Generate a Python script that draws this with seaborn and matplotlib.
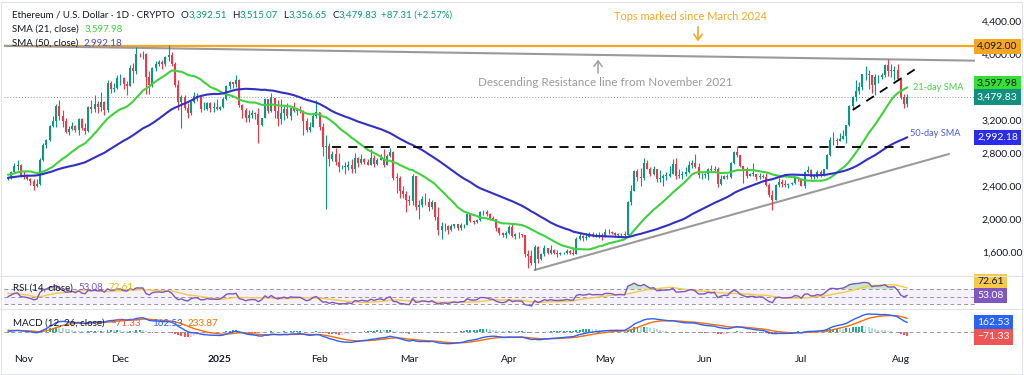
import matplotlib.pyplot as plt
import matplotlib.transforms as mtransforms
from matplotlib.patches import Rectangle, FancyArrowPatch
import numpy as np
import pandas as pd
import seaborn as sns

# closes before the visible window, only used to warm up the SMA / RSI / MACD
sep_close = [2425, 2540, 2425, 2450, 2370, 2225, 2275, 2300, 2360, 2390,
             2340, 2360, 2440, 2415, 2315, 2290, 2340, 2375, 2465, 2560,
             2615, 2580, 2645, 2655, 2580, 2635, 2695, 2675, 2660, 2600]
oct_warm_close = [2450, 2365, 2350, 2415, 2415, 2440, 2420, 2440, 2370, 2385,
                  2435, 2475, 2470, 2630, 2605, 2610, 2605, 2645, 2650, 2750,
                  2665, 2620, 2525, 2535, 2440, 2480]

# visible daily candles, 27 Oct 2024 - 3 Aug 2025
oct_close = [2505, 2565, 2640, 2660, 2520]
oct_high = [2510, 2585, 2680, 2720, 2670]
oct_low = [2470, 2480, 2555, 2590, 2505]

nov_close = [2513, 2490, 2458, 2398, 2420, 2720, 2895, 2960, 3128, 3185,
             3370, 3245, 3185, 3060, 3090, 3130, 3075, 3210, 3105, 3070,
             3355, 3330, 3395, 3360, 3415, 3325, 3650, 3580, 3590, 3705]
nov_high = [2585, 2550, 2500, 2490, 2490, 2740, 2920, 2975, 3140, 3250,
            3395, 3440, 3320, 3220, 3130, 3170, 3140, 3230, 3220, 3160,
            3370, 3440, 3500, 3430, 3540, 3430, 3680, 3670, 3650, 3740]
nov_low = [2480, 2470, 2410, 2350, 2385, 2410, 2700, 2860, 2950, 3120,
           3115, 3205, 3110, 3040, 3015, 3080, 3055, 3020, 3075, 3030,
           3050, 3280, 3300, 3285, 3310, 3260, 3300, 3525, 3540, 3570]

dec_close = [3710, 3640, 3615, 3835, 3790, 4000, 3995, 4005, 3715, 3630,
             3835, 3880, 3905, 3875, 3960, 3985, 3880, 3625, 3420, 3475,
             3340, 3285, 3420, 3490, 3480, 3330, 3330, 3400, 3350, 3360, 3335]
dec_high = [3760, 3720, 3675, 3870, 3890, 4090, 4015, 4040, 4010, 3790,
            3840, 3915, 3925, 3930, 3970, 4107, 4030, 3900, 3680, 3500,
            3500, 3410, 3430, 3535, 3530, 3485, 3420, 3420, 3415, 3420, 3450]
dec_low = [3620, 3580, 3500, 3610, 3645, 3760, 3960, 3940, 3520, 3520,
           3600, 3790, 3850, 3820, 3860, 3920, 3860, 3600, 3320, 3100,
           3320, 3220, 3260, 3400, 3430, 3300, 3320, 3320, 3300, 3300, 3325]

jan_close = [3355, 3450, 3610, 3655, 3635, 3685, 3380, 3325, 3220, 3265,
             3280, 3270, 3135, 3225, 3450, 3310, 3470, 3310, 3210, 3280,
             3330, 3245, 3340, 3310, 3315, 3305, 3185, 3075, 3115, 3250, 3300]
jan_high = [3365, 3480, 3620, 3670, 3665, 3740, 3700, 3395, 3340, 3320,
            3320, 3300, 3340, 3230, 3470, 3450, 3525, 3450, 3440, 3450,
            3370, 3400, 3350, 3420, 3350, 3370, 3325, 3220, 3170, 3280, 3440]
jan_low = [3325, 3350, 3440, 3570, 3590, 3600, 3360, 3230, 3180, 3180,
           3220, 3210, 2920, 3125, 3220, 3290, 3300, 3220, 3130, 3150,
           3200, 3220, 3200, 3300, 3260, 3280, 3020, 3055, 3060, 3110, 3220]

feb_close = [3115, 2870, 2880, 2730, 2785, 2690, 2625, 2630, 2630, 2660,
             2600, 2740, 2675, 2725, 2690, 2660, 2745, 2670, 2715, 2740,
             2660, 2765, 2815, 2500, 2495, 2335, 2305, 2235]
feb_high = [3300, 3160, 3020, 2920, 2825, 2860, 2795, 2650, 2690, 2700,
            2730, 2800, 2755, 2790, 2735, 2725, 2850, 2775, 2735, 2790,
            2845, 2790, 2860, 2830, 2560, 2525, 2400, 2340]
feb_low = [3075, 2760, 2125, 2645, 2700, 2660, 2570, 2600, 2545, 2590,
           2560, 2555, 2635, 2665, 2665, 2650, 2650, 2630, 2650, 2710,
           2625, 2655, 2750, 2475, 2320, 2260, 2250, 2080]

mar_close = [2217, 2520, 2150, 2170, 2240, 2200, 2140, 2200, 2020, 1865,
             1920, 1910, 1865, 1910, 1935, 1887, 1925, 1930, 2055, 1980,
             1965, 1985, 2080, 2080, 2065, 2010, 2000, 1895, 1830, 1805, 1825]
mar_high = [2290, 2550, 2525, 2225, 2280, 2320, 2260, 2230, 2210, 2150,
            1960, 1955, 1925, 1940, 1945, 1940, 1955, 1945, 2070, 2070,
            1990, 1995, 2095, 2105, 2110, 2075, 2040, 2005, 1900, 1840, 1850]
mar_low = [2170, 2170, 2110, 2000, 2150, 2170, 2100, 2120, 1990, 1810,
           1760, 1860, 1820, 1860, 1895, 1870, 1870, 1885, 1925, 1960,
           1940, 1955, 1975, 2050, 2035, 1990, 1985, 1860, 1800, 1780, 1770]

apr_close = [1905, 1795, 1815, 1815, 1805, 1580, 1555, 1470, 1665, 1520,
             1570, 1645, 1590, 1625, 1590, 1578, 1585, 1590, 1615, 1585,
             1580, 1755, 1795, 1770, 1785, 1820, 1790, 1800, 1800, 1795]
apr_high = [1930, 1950, 1830, 1840, 1820, 1810, 1620, 1620, 1690, 1670,
            1590, 1690, 1650, 1690, 1640, 1620, 1600, 1600, 1640, 1620,
            1660, 1785, 1830, 1805, 1830, 1840, 1840, 1830, 1845, 1830]
apr_low = [1820, 1780, 1760, 1770, 1780, 1540, 1410, 1440, 1385, 1470,
           1500, 1550, 1570, 1580, 1580, 1535, 1565, 1570, 1580, 1570,
           1560, 1570, 1750, 1730, 1740, 1780, 1780, 1780, 1770, 1750]

may_close = [1840, 1840, 1835, 1805, 1815, 1815, 1810, 2205, 2345, 2580,
             2515, 2495, 2680, 2610, 2545, 2600, 2480, 2495, 2525, 2525,
             2550, 2665, 2525, 2530, 2550, 2565, 2660, 2680, 2635, 2530, 2530]
may_high = [1875, 1880, 1850, 1845, 1835, 1830, 1850, 2220, 2410, 2590,
            2600, 2615, 2740, 2720, 2625, 2645, 2610, 2590, 2540, 2575,
            2640, 2730, 2740, 2600, 2580, 2630, 2700, 2715, 2790, 2680, 2560]
may_low = [1785, 1820, 1815, 1795, 1785, 1780, 1790, 1810, 2170, 2345,
           2460, 2400, 2470, 2600, 2520, 2530, 2450, 2450, 2400, 2470,
           2510, 2540, 2490, 2500, 2480, 2525, 2560, 2620, 2620, 2500, 2480]

jun_close = [2540, 2610, 2590, 2610, 2420, 2485, 2525, 2510, 2680, 2815,
             2770, 2645, 2580, 2525, 2545, 2545, 2510, 2525, 2515, 2410,
             2295, 2230, 2415, 2450, 2420, 2415, 2425, 2435, 2505, 2490]
jun_high = [2555, 2620, 2660, 2640, 2630, 2530, 2535, 2540, 2690, 2830,
            2880, 2770, 2645, 2630, 2560, 2680, 2550, 2560, 2550, 2560,
            2440, 2350, 2420, 2495, 2490, 2470, 2440, 2450, 2520, 2515]
jun_low = [2500, 2475, 2570, 2580, 2390, 2410, 2480, 2480, 2500, 2665,
           2750, 2630, 2440, 2500, 2520, 2520, 2470, 2490, 2500, 2400,
           2270, 2110, 2230, 2390, 2390, 2385, 2370, 2410, 2420, 2460]

jul_close = [2405, 2570, 2590, 2510, 2515, 2570, 2540, 2610, 2770, 2955,
             2960, 2945, 2970, 3010, 3135, 3370, 3475, 3550, 3595, 3755,
             3760, 3745, 3625, 3715, 3715, 3745, 3870, 3795, 3795, 3810, 3700]
jul_high = [2500, 2580, 2640, 2600, 2520, 2590, 2595, 2610, 2790, 2990,
            3050, 2980, 3040, 3080, 3140, 3380, 3490, 3680, 3660, 3760,
            3860, 3810, 3750, 3760, 3750, 3770, 3880, 3940, 3880, 3860, 3880]
jul_low = [2400, 2380, 2560, 2490, 2480, 2500, 2510, 2520, 2600, 2760,
           2900, 2900, 2940, 2970, 2920, 3130, 3330, 3430, 3520, 3560,
           3680, 3580, 3530, 3500, 3650, 3700, 3720, 3730, 3720, 3680, 3680]

aug_close = [3480, 3392.51, 3479.83]
aug_high = [3720, 3520, 3515.07]
aug_low = [3450, 3350, 3356.65]

months = [(oct_close, oct_high, oct_low), (nov_close, nov_high, nov_low),
          (dec_close, dec_high, dec_low), (jan_close, jan_high, jan_low),
          (feb_close, feb_high, feb_low), (mar_close, mar_high, mar_low),
          (apr_close, apr_high, apr_low), (may_close, may_high, may_low),
          (jun_close, jun_high, jun_low), (jul_close, jul_high, jul_low),
          (aug_close, aug_high, aug_low)]
for c, h, l in months:
    assert len(c) == len(h) == len(l)

vis_close = [v for m in months for v in m[0]]
vis_high = [v for m in months for v in m[1]]
vis_low = [v for m in months for v in m[2]]

all_close = sep_close + oct_warm_close + vis_close
df = pd.DataFrame({'date': pd.date_range('2024-09-01', periods=len(all_close), freq='D'),
                   'close': all_close})
assert df['date'].iloc[-1] == pd.Timestamp('2025-08-03')
df['open'] = df['close'].shift(1).fillna(df['close'])
df['sma21'] = df['close'].rolling(21).mean()
df['sma50'] = df['close'].rolling(50).mean()

delta = df['close'].diff()
gain = delta.clip(lower=0).ewm(alpha=1 / 14, adjust=False).mean()
loss = (-delta.clip(upper=0)).ewm(alpha=1 / 14, adjust=False).mean()
df['rsi'] = 100 - 100 / (1 + gain / loss)
df['rsi_ma'] = df['rsi'].rolling(14).mean()
df['macd'] = df['close'].ewm(span=12, adjust=False).mean() - df['close'].ewm(span=26, adjust=False).mean()
df['signal'] = df['macd'].ewm(span=9, adjust=False).mean()
df['hist'] = df['macd'] - df['signal']

vis = df[df['date'] >= '2024-10-27'].copy()
vis['high'] = vis_high
vis['low'] = vis_low

UP, DOWN = '#089981', '#f23645'
GREEN, BLUE = '#3fd13f', '#3030c4'
TXT = '#131722'

sns.set_theme(style='white')
plt.rcParams['font.family'] = ['Lato', 'DejaVu Sans']

W, H = 1024, 375
fig = plt.figure(figsize=(W / 100, H / 100), dpi=100)


def P(x, y):
    return (x / W, 1 - y / H)


def rect(top, bottom):
    return [4 / W, 1 - bottom / H, (975 - 4) / W, (bottom - top) / H]


ax = fig.add_axes(rect(3, 276))
ax_rsi = fig.add_axes(rect(276, 309), sharex=ax)
ax_macd = fig.add_axes(rect(309, 348), sharex=ax)
for a in (ax, ax_rsi, ax_macd):
    for s in a.spines.values():
        s.set_visible(False)

# ---- price pane ----
col = np.where(vis['close'] >= vis['open'], UP, DOWN)
ax.vlines(vis['date'], vis['low'], vis['high'], colors=col, lw=0.8, zorder=3)
body = (vis['close'] - vis['open']).abs().clip(lower=8)
ax.bar(vis['date'], body, bottom=vis[['open', 'close']].min(axis=1), width=0.62,
       color=col, lw=0, zorder=4)
sns.lineplot(data=vis, x='date', y='sma21', color=GREEN, lw=1.5, ax=ax, legend=False, zorder=5)
sns.lineplot(data=vis, x='date', y='sma50', color=BLUE, lw=1.5, ax=ax, legend=False, zorder=5)

ax.axhline(4092, color='#f5a623', lw=1.6, zorder=2)
ax.plot([pd.Timestamp('2024-10-25 18:00'), pd.Timestamp('2025-08-24')], [4099, 3919],
        color='#9a9a9a', lw=1.5, zorder=2)
ax.plot([pd.Timestamp('2025-04-09'), pd.Timestamp('2025-08-16')], [1382, 2788],
        color='#9a9a9a', lw=1.5, zorder=2)
ax.plot([pd.Timestamp('2025-02-05'), pd.Timestamp('2025-08-05')], [2870, 2870],
        color='black', lw=1.3, dashes=(5, 4), zorder=6)
ax.plot([pd.Timestamp('2025-07-17'), pd.Timestamp('2025-08-07')], [3321, 3855],
        color='black', lw=1.3, dashes=(5, 4), zorder=6)
ax.axhline(3479.83, color='#8a8f9a', lw=0.7, ls=(0, (1, 2)), zorder=2)

ax.set_ylim(1309, 4618)
ax.set_xlim(pd.Timestamp('2024-10-25 18:30'), pd.Timestamp('2025-08-24 02:00'))
ax.set_xlabel('')
ax.set_ylabel('')
ax.yaxis.tick_right()
price_ticks = [1600, 2000, 2400, 2800, 3200, 4000, 4400]
ax.set_yticks(price_ticks)
ax.set_yticklabels([f'{v:,.2f}' for v in price_ticks])
ax.tick_params(axis='y', length=0, pad=5, labelsize=7.5, labelcolor=TXT)
ax.tick_params(axis='x', bottom=False, labelbottom=False)


def tag(a, y, text, fc, tc='white'):
    # coloured value box on the right-hand price scale
    tr = mtransforms.blended_transform_factory(fig.transFigure, a.transData)
    a.text(977 / W, y, text, transform=tr, fontsize=7.5, color=tc, ha='left', va='center',
           bbox=dict(boxstyle='square,pad=0.3', fc=fc, ec='none'), clip_on=False, zorder=10)


tag(ax, 4092, '4,092.00', '#f5a623', TXT)
tag(ax, 3645, '3,597.98', '#33e033', TXT)
tag(ax, 3479.83, '3,479.83', '#12907f')
tag(ax, 2992.18, '2,992.18', '#2b2bf0')

# ---- RSI pane ----
ax_rsi.axhspan(30, 70, color='#7e57c2', alpha=0.08, lw=0)
for lvl in (70, 50, 30):
    ax_rsi.axhline(lvl, color='#9598a1', lw=0.7, dashes=(4, 3))
ax_rsi.fill_between(vis['date'], 70, vis['rsi'], where=vis['rsi'] > 70,
                    interpolate=True, color='#66bb6a', alpha=0.35, lw=0)
sns.lineplot(data=vis, x='date', y='rsi_ma', color='#f7c948', lw=1, ax=ax_rsi, legend=False)
sns.lineplot(data=vis, x='date', y='rsi', color='#7e57c2', lw=1, ax=ax_rsi, legend=False)
ax_rsi.set_ylim(16.7, 104.7)
ax_rsi.set_yticks([])
ax_rsi.tick_params(axis='x', bottom=False, labelbottom=False)
ax_rsi.set_xlabel('')
ax_rsi.set_ylabel('')
tag(ax_rsi, 90, '72.61', '#f7c948', TXT)
tag(ax_rsi, 52.2, '53.08', '#7e57c2')

# ---- MACD pane ----
prev = vis['hist'].shift(1)
hist_col = np.where(vis['hist'] >= 0,
                    np.where(vis['hist'] >= prev, '#26a69a', '#b2dfdb'),
                    np.where(vis['hist'] >= prev, '#ffcdd2', '#ff5252'))
ax_macd.axhline(0, color='#9598a1', lw=0.7, dashes=(4, 3))
ax_macd.bar(vis['date'], vis['hist'], width=0.6, color=hist_col, lw=0)
sns.lineplot(data=vis, x='date', y='signal', color='#ff6d00', lw=1, ax=ax_macd, legend=False)
sns.lineplot(data=vis, x='date', y='macd', color='#2962ff', lw=1, ax=ax_macd, legend=False)
ax_macd.set_ylim(-290, 400)
ax_macd.set_yticks([])
ax_macd.set_ylabel('')
ax_macd.set_xlabel('')
month_ticks = pd.date_range('2024-11-01', '2025-08-01', freq='MS')
month_labels = ['Nov', 'Dec', '2025', 'Feb', 'Mar', 'Apr', 'May', 'Jun', 'Jul', 'Aug']
ax_macd.set_xticks(month_ticks)
ax_macd.set_xticklabels(month_labels)
ax_macd.tick_params(axis='x', length=0, pad=5, labelsize=7.4, labelcolor=TXT)
ax_macd.get_xticklabels()[2].set_fontweight('bold')
tag(ax_macd, 165, '162.53', '#2962ff')
tag(ax_macd, -95, '\u221271.33', '#f05454')

# ---- pane separators and frame ----
for yy in (276, 309):
    fig.add_artist(plt.Line2D([0, 1], [1 - yy / H] * 2, transform=fig.transFigure,
                              color='#e0e3eb', lw=0.8))
fig.add_artist(Rectangle((0.001, 0.004), 0.997, 0.992, transform=fig.transFigure,
                         fill=False, ec='#e0e3eb', lw=0.8))


def line_of(x, y, parts, size=7.0):
    # coloured pieces written one after another on one line
    first = fig.text(*P(x, y), parts[0][1], color=parts[0][2], fontsize=size,
                     va='center', ha='left')
    last = first
    for gap, s, color in parts[1:]:
        last = fig.add_artist(plt.Annotation(
            s, xy=(1, 0.5), xycoords=last, xytext=(gap, 0), textcoords='offset points',
            color=color, fontsize=size, va='center', ha='left'))


# legend-style header
line_of(12, 15, [(0, 'Ethereum / U.S. Dollar \u00b7 1D \u00b7 CRYPTO', TXT),
                 (4, 'O', TXT), (0, '3,392.51', UP),
                 (4, 'H', TXT), (0, '3,515.07', UP),
                 (4, 'L', TXT), (0, '3,356.65', UP),
                 (4, 'C', TXT), (0, '3,479.83', UP),
                 (3, '+87.31 (+2.57%)', UP)])
line_of(12, 29, [(0, 'SMA (21, close)', TXT), (4, '3,597.98', GREEN)])
line_of(12, 43, [(0, 'SMA (50, close)', TXT), (4, '2,992.18', '#4a4ad8')])
line_of(13, 288, [(0, 'RSI (14, close)', TXT), (4, '53.08', '#7e57c2'),
                  (4, '72.61', '#e8b800')])
line_of(13, 323, [(0, 'MACD (12, 26, close)', TXT), (4, '\u221271.33', '#f05454'),
                  (8, '162.53', '#2962ff'), (4, '233.87', '#ff6d00')])

# annotations
fig.text(*P(690, 16), 'Tops marked since March 2024', color='#f5a623', fontsize=7.9,
         ha='center', va='center')
fig.add_artist(FancyArrowPatch(P(698, 24), P(698, 44), transform=fig.transFigure,
                               arrowstyle='->,head_length=4,head_width=3',
                               color='#f5a623', lw=1.2))
fig.text(*P(605, 82), 'Descending Resistance line from November 2021', color='#9a9a9a',
         fontsize=8.4, ha='center', va='center')
fig.add_artist(FancyArrowPatch(P(598, 76), P(598, 57), transform=fig.transFigure,
                               arrowstyle='->,head_length=4,head_width=3',
                               color='#9a9a9a', lw=1.0))
fig.text(*P(913, 87), '21-day SMA', color=GREEN, fontsize=6.6, va='center', ha='left')
fig.text(*P(910, 133), '50-day SMA', color='#4a5adf', fontsize=6.6, va='center', ha='left')

fig.savefig('out.png', dpi=100)
